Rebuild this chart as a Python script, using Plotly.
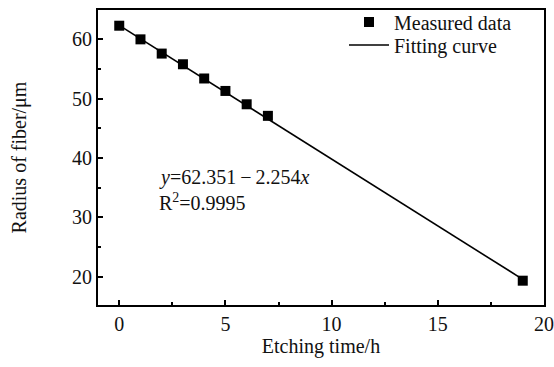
import plotly.graph_objects as go

# Data
etch_time_h = [0, 1, 2, 3, 4, 5, 6, 7, 19]
radius_um = [62.3, 60.0, 57.6, 55.8, 53.4, 51.3, 49.05, 47.1, 19.3]
fit_intercept = 62.351
fit_slope = -2.254
fit_x = [0, 19]
fit_y = [fit_intercept + fit_slope * x for x in fit_x]

FONT = "Liberation Serif, Times New Roman, serif"
TXT = "#111111"

fig = go.Figure()
fig.add_trace(go.Scatter(
    x=fit_x, y=fit_y, mode="lines", name="Fitting curve",
    line=dict(color="black", width=1.6), showlegend=True, legend="legend2",
))
fig.add_trace(go.Scatter(
    x=etch_time_h, y=radius_um, mode="markers", name="Measured data",
    marker=dict(symbol="square", size=10, color="black"),
    showlegend=True, legend="legend",
))

axis_common = dict(
    showline=True, linecolor="black", linewidth=2, mirror=True,
    ticks="inside", ticklen=5, tickwidth=1.5, tickcolor="black",
    showgrid=False, zeroline=False, automargin=False,
    tickfont=dict(family=FONT, size=20, color=TXT),
    title_font=dict(family=FONT, size=20, color=TXT),
)

fig.update_xaxes(
    range=[-1, 20], tickmode="array", tickvals=[0, 5, 10, 15, 20],
    minor=dict(ticks="inside", ticklen=3, tickwidth=1.5, tickcolor="black", dtick=2.5, tick0=0),
    title_text="Etching time/h", title_standoff=4, **axis_common,
)
fig.update_yaxes(
    range=[15.2, 64.95], tickmode="array", tickvals=[20, 30, 40, 50, 60],
    minor=dict(ticks="inside", ticklen=3, tickwidth=1.5, tickcolor="black", dtick=5, tick0=0),
    title_text="Radius of fiber/μm", title_standoff=40, **axis_common,
)

L, R, T, B = 98, 10, 10, 62
W, H = 554, 367
pw, ph = W - L - R, H - T - B

def px_to_paper(px, py):
    return (px - L) / pw, 1 - (py - T) / ph

ax, ay = px_to_paper(157, 177)
fig.add_annotation(
    x=ax, y=ay, xref="paper", yref="paper", showarrow=False,
    text="<i>y</i>=62.351\u2009−\u20092.254<i>x</i>", xanchor="left", yanchor="middle",
    font=dict(family=FONT, size=20, color=TXT),
)
ax, ay = px_to_paper(157, 202)
fig.add_annotation(
    x=ax, y=ay, xref="paper", yref="paper", showarrow=False,
    text="R<sup>2</sup>=0.9995", xanchor="left", yanchor="middle",
    font=dict(family=FONT, size=20, color=TXT),
)

leg_common = dict(xanchor="left", yanchor="middle", bgcolor="rgba(0,0,0,0)",
                  font=dict(family=FONT, size=20, color=TXT), itemwidth=40, visible=True)
l1x, l1y = px_to_paper(344, 22)
l2x, l2y = px_to_paper(344, 45)
fig.update_layout(
    width=W, height=H,
    margin=dict(l=L, r=R, t=T, b=B, autoexpand=False),
    plot_bgcolor="white", paper_bgcolor="white",
    font=dict(family=FONT, size=20, color=TXT),
    showlegend=True,
    legend=dict(x=l1x, y=l1y, **leg_common),
    legend2=dict(x=l2x, y=l2y, **leg_common),
)

fig.write_html(
    "out.html",
    config={"displayModeBar": False},
    post_script="document.body.style.margin='0';document.body.style.overflow='hidden';",
)
